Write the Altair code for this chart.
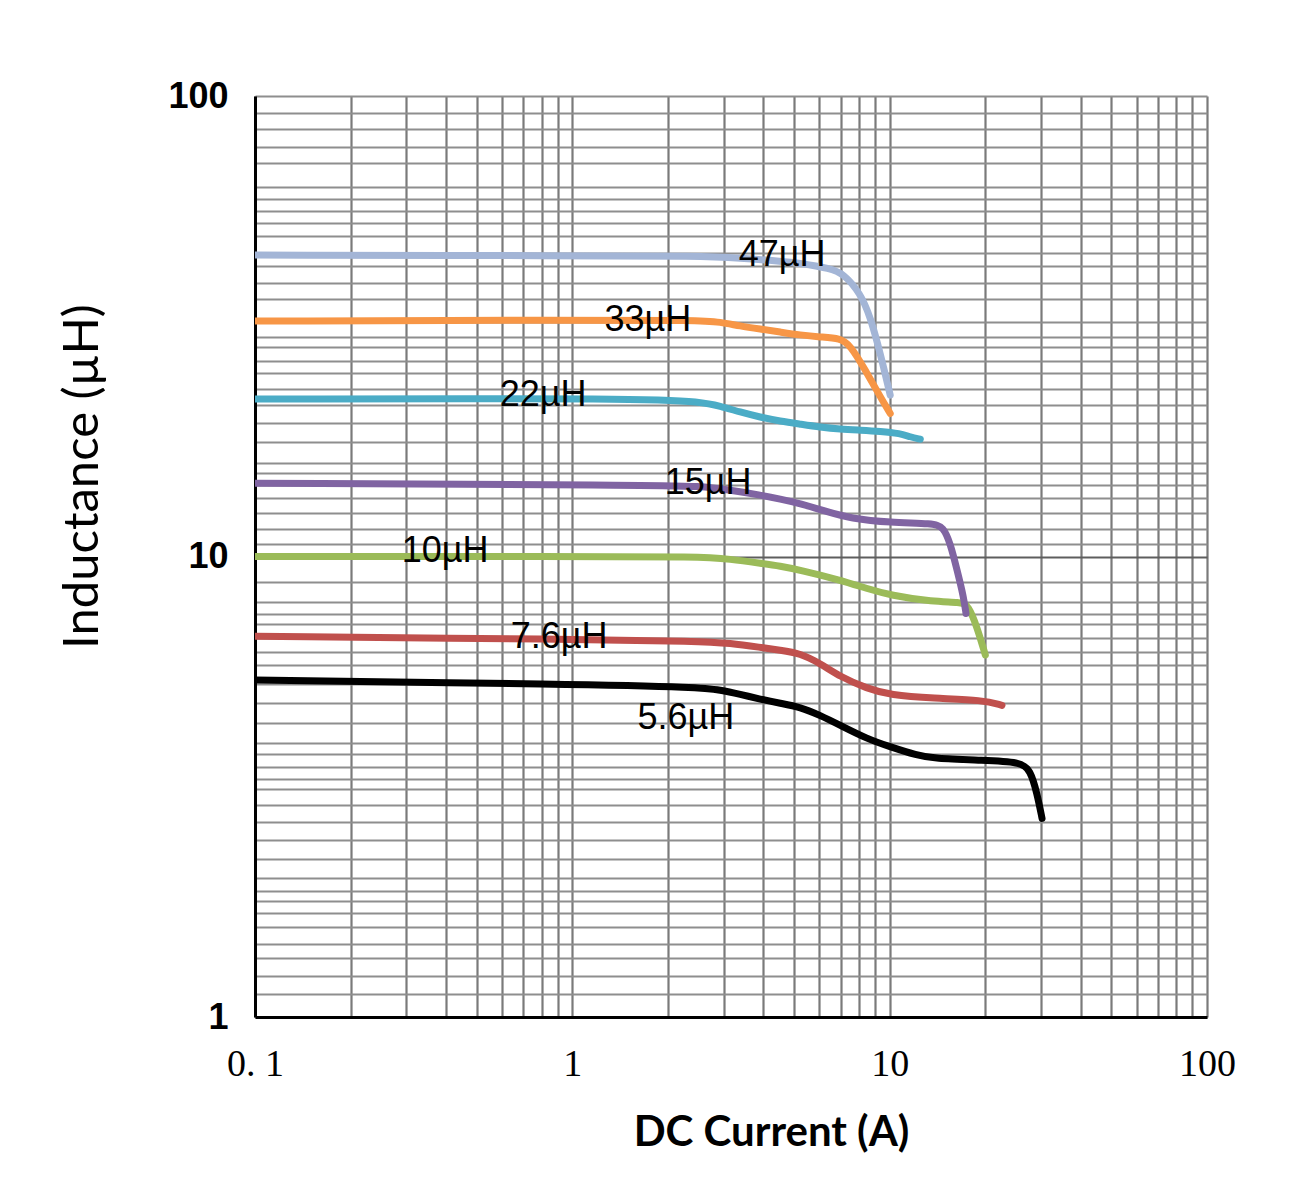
import altair as alt
import pandas as pd

# ---- series (DC current in A, inductance in µH) ----
names = ["5.6µH", "7.6µH", "10µH", "15µH", "22µH", "33µH", "47µH"]
colors = ["#000000", "#C0504D", "#9BBB59", "#8064A2", "#4BACC6", "#F79646", "#A3B5D6"]

s56_I = [0.1, 1.0, 2.53, 2.924, 3.381, 3.909, 4.52, 5.227, 6.042, 6.987, 8.48, 10.04, 12.19, 13.72, 19.73, 25.8, 27.75, 29.13, 30.21]
s56_L = [5.39, 5.28, 5.20, 5.13, 5.02, 4.90, 4.80, 4.71, 4.52, 4.30, 4.02, 3.86, 3.70, 3.64, 3.61, 3.58, 3.44, 3.06, 2.70]

s76_I = [0.1, 1.0, 2.53, 3.144, 3.909, 4.52, 5.227, 6.042, 6.987, 8.48, 10.04, 13.72, 19.73, 22.59]
s76_L = [6.71, 6.61, 6.55, 6.48, 6.35, 6.26, 6.16, 5.86, 5.48, 5.17, 5.00, 4.92, 4.88, 4.75]

s10_I = [0.1, 1.0, 2.53, 3.144, 3.909, 4.52, 5.227, 6.987, 8.48, 10.04, 13.72, 16.70, 17.69, 18.85, 20.02]
s10_L = [10.0, 10.0, 10.0, 9.87, 9.67, 9.53, 9.34, 8.89, 8.52, 8.24, 7.97, 7.97, 7.84, 7.03, 6.11]

s15_I = [0.1, 1.759, 2.53, 3.144, 3.909, 4.52, 5.227, 6.344, 7.51, 10.04, 13.72, 14.76, 15.53, 16.31, 17.10, 17.40]
s15_L = [14.43, 14.29, 14.22, 13.94, 13.60, 13.33, 13.04, 12.51, 12.10, 11.84, 11.80, 11.60, 10.67, 9.34, 8.17, 7.52]

s22_I = [0.1, 1.759, 2.53, 2.924, 3.381, 3.909, 4.52, 5.227, 6.042, 6.987, 8.08, 9.34, 10.80, 11.61, 12.49]
s22_L = [21.97, 22.08, 21.65, 21.22, 20.58, 20.07, 19.67, 19.38, 19.09, 18.90, 18.81, 18.71, 18.50, 18.18, 17.98]

s33_I = [0.1, 1.0, 2.53, 2.924, 3.381, 3.909, 4.52, 5.227, 6.042, 6.987, 7.51, 8.38, 9.34, 10.04]
s33_L = [32.45, 32.61, 32.61, 32.29, 31.65, 31.18, 30.72, 30.26, 29.96, 29.77, 28.79, 25.40, 22.22, 20.45]

s47_I = [0.1, 1.0, 2.53, 3.381, 4.52, 5.227, 6.497, 7.14, 8.08, 8.69, 9.34, 10.04]
s47_L = [45.13, 45.0, 44.91, 44.46, 43.80, 43.36, 42.23, 41.19, 37.33, 33.15, 27.65, 22.41]

series_I = [s56_I, s76_I, s10_I, s15_I, s22_I, s33_I, s47_I]
series_L = [s56_L, s76_L, s10_L, s15_L, s22_L, s33_L, s47_L]

# curve labels (position in data units)
label_text = ["47µH", "33µH", "22µH", "15µH", "10µH", "7.6µH", "5.6µH"]
label_I = [4.58, 1.73, 0.809, 2.68, 0.397, 0.909, 2.28]
label_L = [45.2, 32.6, 22.4, 14.43, 10.3, 6.7, 4.46]

# axis grid / tick values
x_ticks = [0.1, 0.2, 0.3, 0.4, 0.5, 0.6, 0.7, 0.8, 0.9,
           1, 2, 3, 4, 5, 6, 7, 8, 9,
           10, 20, 30, 40, 50, 60, 70, 80, 90, 100]
y_ticks = [1, 1.12, 1.23, 1.34, 1.44, 1.57, 1.68, 1.79, 1.88, 2.0, 2.2, 2.42, 2.65,
           2.88, 3.13, 3.28, 3.49, 3.72, 3.94, 4.34, 4.8, 5.28, 5.81, 6.21, 6.64,
           7.13, 7.52, 7.97, 8.81,
           10, 10.64, 11.45, 12.44, 13.37, 14.29, 15.15, 15.97, 17.75, 19.52, 21.32,
           23.06, 24.99, 26.61, 28.54, 30.01, 32.29, 36.17, 39.31, 42.73, 45.65,
           49.66, 52.9, 56.35, 59.65, 63.53, 71.43, 77.61, 84.67, 91.99, 100]

x_scale = alt.Scale(type="log", domain=[0.1, 100], nice=False)
y_scale = alt.Scale(type="log", domain=[1, 100], nice=False)

x_axis = alt.Axis(
    values=x_ticks,
    labelExpr="datum.value == 0.1 ? '0. 1' : datum.value == 1 ? '1' : datum.value == 10 ? '10' : datum.value == 100 ? '100' : ''",
    labelFont="Liberation Serif", labelFontSize=38, labelColor="#000000",
    labelPadding=28, labelFlush=False, labelOverlap=False, labelBound=False,
    ticks=False,
    domainColor="#000000", domainWidth=3,
    grid=True, gridColor="#7a7a7a", gridWidth=2.2, gridOpacity=1,
    title="DC Current (A)", titleFont="Lato", titleFontWeight="bold", titleFontSize=42,
    titleColor="#000000", titleX=516, titleY=115, titleAlign="center", titleBaseline="middle",
)
y_axis = alt.Axis(
    values=y_ticks,
    labelExpr="datum.value == 1 ? '1' : datum.value == 10 ? '10' : datum.value == 100 ? '100' : ''",
    labelFont="Liberation Sans", labelFontWeight="bold", labelFontSize=36, labelColor="#000000",
    labelPadding=27, labelOverlap=False, labelBound=False, labelFlush=False,
    ticks=False,
    domainColor="#000000", domainWidth=3,
    grid=True, gridWidth=2.2, gridOpacity=1,
    gridColor={"condition": {"test": "datum.value == 10", "value": "#5e5e5e"}, "value": "#8e8e8e"},
    title="Inductance (µH)", titleFont="Lato", titleFontWeight="normal", titleFontSize=49,
    titleColor="#000000", titleX=-173, titleY=380, titleAngle=270,
    titleAlign="center", titleBaseline="middle",
)

layers = []
for i, (nm, col) in enumerate(zip(names, colors)):
    df = pd.DataFrame({"I": series_I[i], "L": series_L[i], "series": nm})
    layers.append(
        alt.Chart(df).mark_line(interpolate="basis", strokeWidth=7, strokeCap="round",
                                strokeJoin="round", color=col, clip=True)
        .encode(
            x=alt.X("I:Q", scale=x_scale, axis=x_axis),
            y=alt.Y("L:Q", scale=y_scale, axis=y_axis),
        )
    )

lab_df = pd.DataFrame({"text": label_text, "I": label_I, "L": label_L})
labels = alt.Chart(lab_df).mark_text(
    font="Liberation Sans", fontSize=36, color="#000000", align="center", baseline="middle"
).encode(
    x=alt.X("I:Q", scale=x_scale, axis=x_axis),
    y=alt.Y("L:Q", scale=y_scale, axis=y_axis),
    text="text:N",
)

chart = alt.layer(*layers, labels).properties(
    width=952, height=921,
    autosize=alt.AutoSizeParams(type="none"),
    padding={"left": 247, "top": 88, "right": 80, "bottom": 170},
    background="#ffffff",
).configure_view(stroke=None)

chart.save("out.html", embed_options={"renderer": "svg", "actions": False})
